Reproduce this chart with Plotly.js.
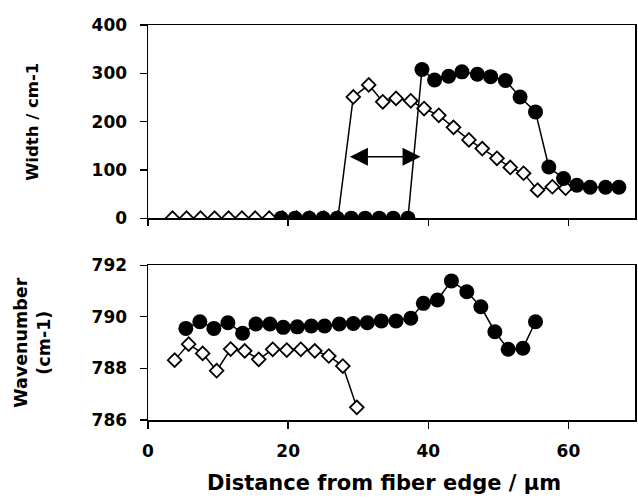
<!DOCTYPE html>
<html>
<head>
<meta charset="utf-8">
<script src="https://cdn.plot.ly/plotly-3.0.1.min.js"></script>
<style>html,body{margin:0;padding:0;background:#fff;}</style>
</head>
<body>
<div id="chart" style="width:638px;height:500px;"></div>
<script>
// Top panel: width (cm-1) vs distance (µm)
const widthOpenX = [3.5,5.5,7.5,9.5,11.5,13.4,15.3,17.3,19.2,21.2,23.1,25.1,27.1,29.3,31.5,33.5,35.4,37.5,39.4,41.5,43.6,45.8,47.7,49.8,51.7,53.6,55.6,57.7,59.6];
const widthOpenY = [0,0,0,0,0,0,0,0,0,0,0,0,0,251,276,241,248,243,227,213,188,162,144,124,105,93,58,65,62];
const widthFilledX = [19,21,23,25,27,29,31,33,35,37.1,39.1,40.9,42.9,44.8,47.0,48.9,51.0,53.1,55.3,57.2,59.3,61.2,63.1,65.3,67.2];
const widthFilledY = [0,0,0,0,0,0,0,0,0,0,308,286,294,303,298,293,285,251,220,106,82,68,64,64,64];

// Bottom panel: wavenumber (cm-1) vs distance (µm)
const waveOpenX = [3.8,5.8,7.8,9.8,11.8,13.8,15.8,17.8,19.8,21.8,23.8,25.8,27.8,29.8];
const waveOpenY = [788.32,788.94,788.58,787.91,788.75,788.68,788.35,788.74,788.71,788.74,788.68,788.48,788.09,786.49];
const waveFilledX = [5.4,7.4,9.4,11.4,13.5,15.4,17.4,19.3,21.3,23.3,25.2,27.3,29.3,31.3,33.3,35.4,37.5,39.3,41.3,43.3,45.5,47.5,49.5,51.4,53.5,55.3];
const waveFilledY = [789.55,789.81,789.55,789.77,789.36,789.72,789.72,789.59,789.61,789.64,789.64,789.72,789.74,789.77,789.84,789.84,789.94,790.52,790.65,791.39,790.97,790.39,789.42,788.74,788.78,789.81];

const xTicks = [0,20,40,60];
const widthTicks = [0,100,200,300,400];
const waveTicks = [786,788,790,792];

const FONT = 'DejaVu Sans, Arial, sans-serif';
const lineStyle = {color:'#000', width:1.5};
const openMarker = {symbol:'diamond', size:10.5, color:'#fff', line:{color:'#000', width:1.8}};
const filledMarker = {symbol:'circle', size:15, color:'#000', line:{color:'#000', width:0}};

const traces = [
  {x:widthOpenX, y:widthOpenY, xaxis:'x2', yaxis:'y2', mode:'lines+markers', line:lineStyle, marker:openMarker},
  {x:widthFilledX, y:widthFilledY, xaxis:'x2', yaxis:'y2', mode:'lines+markers', line:lineStyle, marker:filledMarker},
  {x:waveOpenX, y:waveOpenY, xaxis:'x', yaxis:'y', mode:'lines+markers', line:lineStyle, marker:openMarker},
  {x:waveFilledX, y:waveFilledY, xaxis:'x', yaxis:'y', mode:'lines+markers', line:lineStyle, marker:filledMarker}
];

const tickFont = {family:FONT, size:17, color:'#000', weight:'bold'};
const axCommon = {showline:true, linecolor:'#000', linewidth:1.5, mirror:true, ticks:'outside', ticklen:7, tickwidth:1.3, tickcolor:'#000', showgrid:false, zeroline:false, tickfont:tickFont};

const layout = {
  width:638, height:500,
  margin:{l:148, r:3, t:25, b:80},
  paper_bgcolor:'#fff', plot_bgcolor:'#fff',
  showlegend:false,
  xaxis: Object.assign({}, axCommon, {domain:[0,1], anchor:'y', range:[0,69.5], tickvals:xTicks, ticktext:xTicks.map(String), ticklabelstandoff:8}),
  yaxis: Object.assign({}, axCommon, {domain:[0,0.392], anchor:'x', range:[786,792], tickvals:waveTicks, ticktext:waveTicks.map(String), ticklabelstandoff:9}),
  xaxis2: Object.assign({}, axCommon, {domain:[0,1], anchor:'y2', range:[0,69.5], tickvals:xTicks, showticklabels:false, ticklen:6}),
  yaxis2: Object.assign({}, axCommon, {domain:[0.511,1], anchor:'x2', range:[0,400], tickvals:widthTicks, ticktext:widthTicks.map(String), ticklabelstandoff:9}),
  annotations:[
    {xref:'x2', yref:'y2', axref:'x2', ayref:'y2', x:38.9, y:127, ax:28.6, ay:127, text:'', showarrow:true, arrowhead:2, startarrowhead:2, arrowside:'end+start', arrowsize:2.4, startarrowsize:2.4, arrowwidth:1.5, arrowcolor:'#000'},
    {xref:'paper', yref:'paper', x:0.485, y:-0.16, yanchor:'middle', xanchor:'center', showarrow:false, text:'Distance from fiber edge / µm', font:{family:FONT, size:21, color:'#000', weight:'bold'}},
    {xref:'paper', yref:'paper', x:-0.236, y:0.755, xanchor:'center', yanchor:'middle', textangle:-90, showarrow:false, text:'Width / cm-1', font:{family:FONT, size:16.5, color:'#000', weight:'bold'}},
    {xref:'paper', yref:'paper', x:-0.236, y:0.196, xanchor:'center', yanchor:'middle', textangle:-90, showarrow:false, text:'Wavenumber<br>(cm-1)', font:{family:FONT, size:17.5, color:'#000', weight:'bold'}}
  ]
};

Plotly.newPlot('chart', traces, layout, {displayModeBar:false, staticPlot:true});
</script>
</body>
</html>
